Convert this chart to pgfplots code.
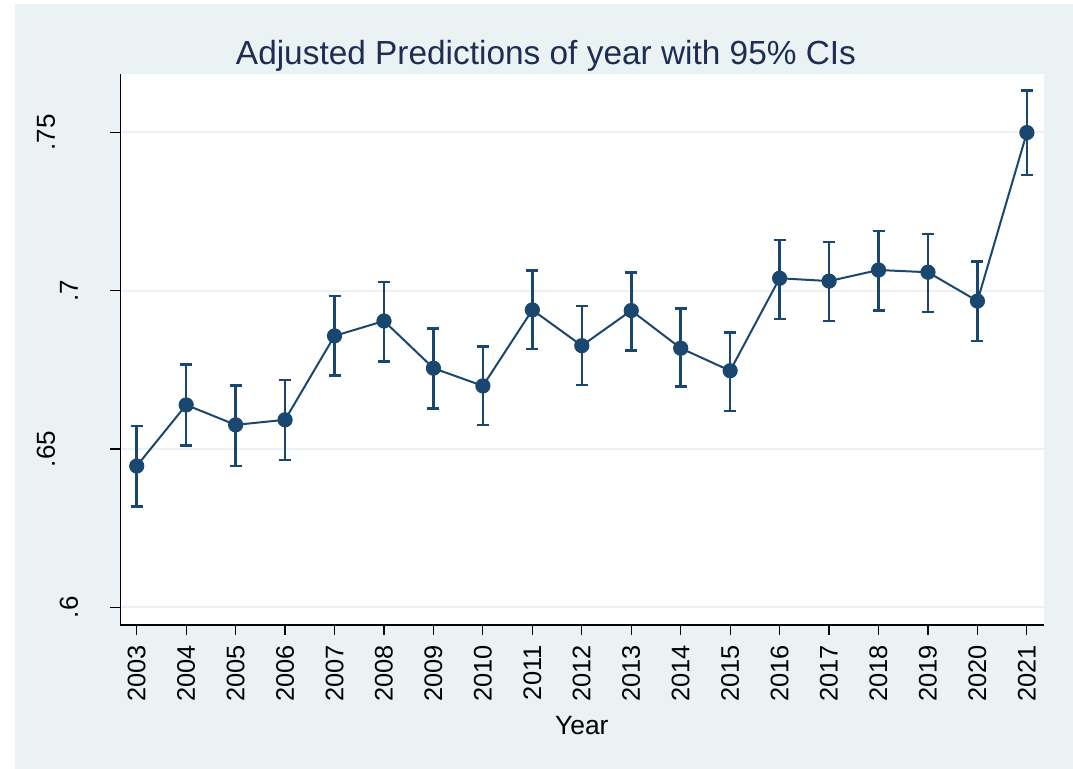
\documentclass[border=0pt]{standalone}
\usepackage{pgfplots}
\usepackage{pgfplotstable}
\pgfplotsset{compat=1.18}
\usepackage{fontspec}
\setmainfont{Liberation Sans}
\definecolor{stnavy}{RGB}{26,71,111}
\definecolor{stbg}{RGB}{234,242,243}
\definecolor{sttitle}{RGB}{30,45,83}
\pgfplotstableread{
year y lo hi
2003 0.6446 0.6318 0.6573
2004 0.6639 0.6510 0.6766
2005 0.6576 0.6446 0.6700
2006 0.6592 0.6465 0.6718
2007 0.6857 0.6731 0.6983
2008 0.6904 0.6776 0.7027
2009 0.6755 0.6628 0.6881
2010 0.6699 0.6576 0.6823
2011 0.6939 0.6815 0.7063
2012 0.6826 0.6702 0.6951
2013 0.6937 0.6810 0.7058
2014 0.6818 0.6697 0.6943
2015 0.6747 0.6620 0.6868
2016 0.7039 0.6910 0.7160
2017 0.7030 0.6904 0.7153
2018 0.7065 0.6937 0.7188
2019 0.7058 0.6932 0.7179
2020 0.6967 0.6841 0.7091
2021 0.7499 0.7365 0.7631
}\datatable
\begin{document}
\begin{tikzpicture}[x=1pt,y=1pt]
\useasboundingbox (0,0) rectangle (536.5,-384.5);
\fill[white] (0,0) rectangle (536.5,-384.5);
\fill[stbg] (7.5,-2) rectangle (536.5,-384.5);
\node[anchor=base, text=sttitle, font=\fontsize{16.7}{20}\selectfont, inner sep=0pt] at (273,-32.5) {Adjusted Predictions of year with 95\% CIs};
\begin{axis}[
  at={(60.1pt,-312.5pt)}, anchor=south west,
  width=461.65pt, height=275.5pt, scale only axis,
  xmin=2002.666, xmax=2021.336, ymin=0.5944, ymax=0.7684,
  axis background/.style={fill=white},
  axis x line*=bottom, axis y line*=left,
  axis line style={black, line width=0.6pt, -},
  tick align=outside, major tick length=5pt,
  tick style={black, line width=0.6pt},
  xtick={2003,...,2021},
  x tick label style={/pgf/number format/1000 sep={}},
  xticklabel style={rotate=90, anchor=east, font=\fontsize{12.7}{15}\selectfont, inner ysep=0pt, inner xsep=5pt},
  ytick={0.6,0.65,0.7,0.75},
  yticklabels={{\raisebox{15.5pt}[0pt][0pt]{.6}},{\raisebox{27pt}[0pt][0pt]{.65}},{\raisebox{15.5pt}[0pt][0pt]{.7}},{\raisebox{27pt}[0pt][0pt]{.75}}},
  yticklabel style={rotate=90, anchor=south, font=\fontsize{13}{15}\selectfont, inner sep=0pt},
  /pgf/number format/assume math mode=true,
  ymajorgrids, grid style={stbg, line width=1pt},
  xlabel={Year},
  xlabel style={at={(axis description cs:0.5,0)}, anchor=base, yshift=-55pt, font=\fontsize{13.2}{15}\selectfont, inner sep=0pt},
  clip=false,
]
\addplot[stnavy, line width=1pt, mark=*, mark size=3.3pt,
  error bars/.cd, y dir=both, y explicit,
  error bar style={line width=1.3pt, stnavy},
  error mark options={rotate=90, mark size=3pt, line width=1.3pt, stnavy}]
  table[x=year, y=y, y error plus expr=\thisrow{hi}-\thisrow{y}, y error minus expr=\thisrow{y}-\thisrow{lo}] {\datatable};
\end{axis}
\end{tikzpicture}
\end{document}
